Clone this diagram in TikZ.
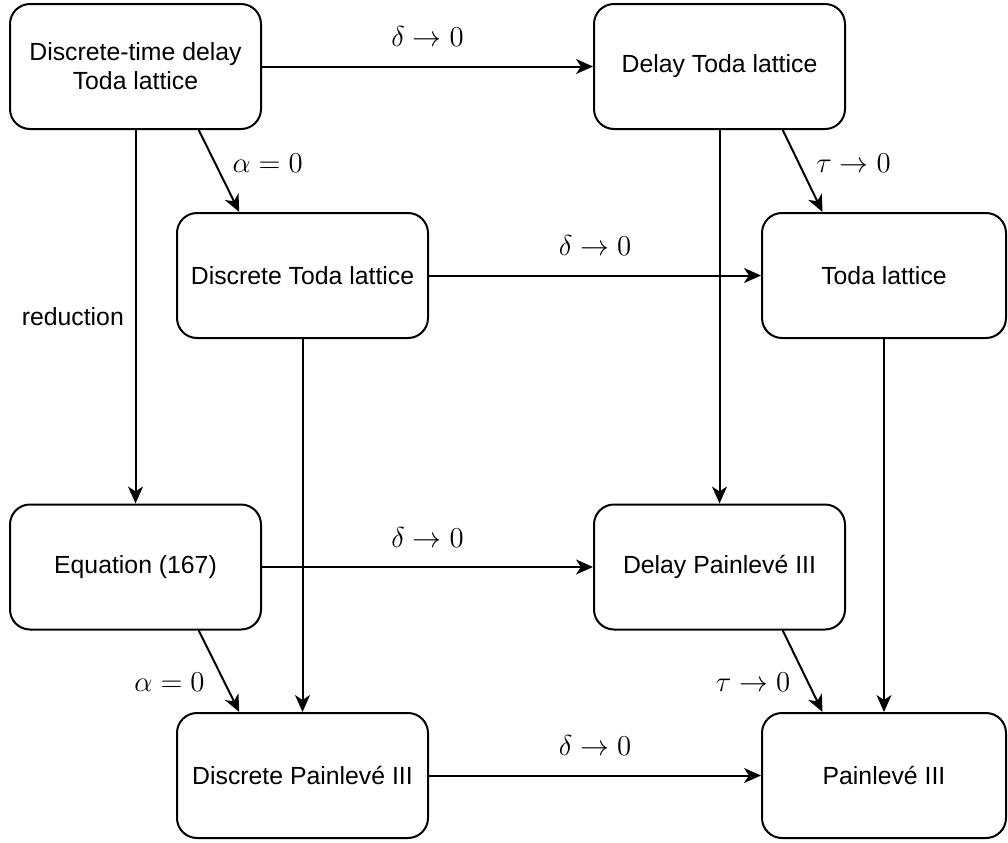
\documentclass[tikz,border=0pt]{standalone}
\usepackage[no-math]{fontspec}
\setmainfont{Liberation Sans}
\usetikzlibrary{arrows.meta,calc,positioning}
\begin{document}
\begin{tikzpicture}[x=0.5pt, y=-0.5pt]
        \tikzstyle{box} = [draw, rounded corners=10pt, line width=1pt, minimum width=125.5pt, minimum height=62.5pt, align=center, font=\fontsize{12.4}{14.5}\selectfont]
        \tikzstyle{arr} = [-{Stealth[length=8.5pt, width=7.5pt, inset=2.5pt]}, line width=1pt]
        \tikzstyle{lbl} = [font=\fontsize{14.5}{17}\selectfont]
        \useasboundingbox (0,0) rectangle (1008,842);
        \node[box] (DTDT) at (135.5,66.5) {Discrete-time delay\\Toda lattice};
        \node[box] (DT) at (719.5,66.5) {Delay Toda lattice};
        \node[box] (DiscT) at (302.5,275.5) {Discrete Toda lattice};
        \node[box, minimum width=122pt] (T) at (884,275.5) {Toda lattice};
        \node[box] (Eq) at (135.5,567) {Equation (167)};
        \node[box] (DP) at (719.5,567) {Delay Painlev\'e III};
        \node[box] (DiscP) at (302.5,775.5) {Discrete Painlev\'e III};
        \node[box, minimum width=122pt] (P) at (884,775.5) {Painlev\'e III};
        \draw[arr] (DTDT.east) -- (DT.west) node[lbl, midway, above=6pt] {$\delta\to0$};
        \draw[arr] (DiscT.east) -- (DiscT.east -| T.west) node[lbl, midway, above=6pt] {$\delta\to0$};
        \draw[arr] (Eq.east) -- (DP.west) node[lbl, midway, above=6pt] {$\delta\to0$};
        \draw[arr] (DiscP.east) -- (DiscP.east -| P.west) node[lbl, midway, above=6pt] {$\delta\to0$};
        \draw[arr] ($(DTDT.south west)!.75!(DTDT.south east)$) -- ($(DiscT.north west)!.25!(DiscT.north east)$) node[lbl, pos=0.4, right=5pt] {$\alpha=0$};
        \draw[arr] ($(DT.south west)!.75!(DT.south east)$) -- ($(T.north west)!.25!(T.north east)$) node[lbl, pos=0.4, right=5pt] {$\tau\to0$};
        \draw[arr] ($(Eq.south west)!.75!(Eq.south east)$) -- ($(DiscP.north west)!.25!(DiscP.north east)$) node[lbl, pos=0.63, left=6pt] {$\alpha=0$};
        \draw[arr] ($(DP.south west)!.75!(DP.south east)$) -- ($(P.north west)!.25!(P.north east)$) node[lbl, pos=0.63, left=5pt] {$\tau\to0$};
        \draw[arr] (DTDT.south) -- (Eq.north) node[midway, left=2pt, font=\fontsize{12.4}{14.5}\selectfont] {reduction};
        \draw[arr] (DT.south) -- (DP.north);
        \draw[arr] (DiscT.south) -- (DiscP.north);
        \draw[arr] (T.south) -- (P.north);
      \end{tikzpicture}
\end{document}
